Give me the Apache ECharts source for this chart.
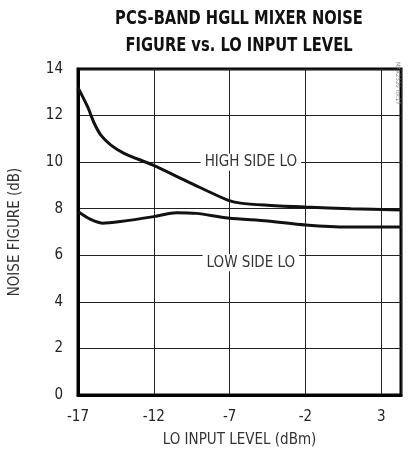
<!DOCTYPE html>
<html><head><meta charset="utf-8">
<script src="https://cdn.jsdelivr.net/npm/echarts@6/dist/echarts.min.js"></script>
<style>html,body{margin:0;padding:0;background:#fff}#c{width:409px;height:457px}</style>
</head><body><div id="c"></div>
<script>
var FONT = '"Liberation Sans Narrow","DejaVu Sans Condensed","Liberation Sans",sans-serif';
var titleLines = ['PCS-BAND HGLL MIXER NOISE', 'FIGURE vs. LO INPUT LEVEL'];
var xAxisName = 'LO INPUT LEVEL (dBm)';
var yAxisName = 'NOISE FIGURE (dB)';
var seriesNames = ['HIGH SIDE LO', 'LOW SIDE LO'];
var highX = [-17, -16.37, -15.93, -15.49, -14.83, -13.96, -12.09, -9.57, -7.13, -6.28, -4.5, -2, 1, 4.3];
var highY = [13.2, 12.38, 11.67, 11.16, 10.73, 10.38, 9.88, 9.1, 8.37, 8.24, 8.15, 8.07, 8.0, 7.94];
var lowX = [-17, -16.2, -15.4, -14.2, -12, -10.5, -9.2, -7.1, -4.5, -2, 0.8, 4.3];
var lowY = [7.88, 7.55, 7.38, 7.45, 7.66, 7.83, 7.8, 7.6, 7.47, 7.3, 7.21, 7.21];
var labelPos = [[-5.6, 10], [-5.6, 5.68]];
var sideNote = 'MAX2320 toc17';

function pairs(xs, ys){ return xs.map(function(x,i){ return [x, ys[i]]; }); }

var chart = echarts.init(document.getElementById('c'));
var lbl = function(name, coord){
  return { symbol:'rect', symbolSize:[1,1], silent:true, itemStyle:{ color:'rgba(0,0,0,0)' },
    data:[{ coord: coord,
    label:{ show:true, position:'inside', formatter:name, color:'#333', fontFamily:FONT, fontSize:15,
      backgroundColor:'#fff', padding:[1,4,1,4] } }] };
};
chart.setOption({
  animation:false,
  grid:{ left:77, right:8, top:69, bottom:62, show:true, borderColor:'#000', borderWidth:3 },
  xAxis:{ type:'value', min:-17, max:4.3, interval:5,
    name:xAxisName, nameLocation:'middle', nameGap:38,
    nameTextStyle:{ fontFamily:FONT, fontSize:15, color:'#333' },
    axisLine:{ show:true, onZero:false, lineStyle:{ color:'#000', width:3 } }, axisTick:{ show:false },
    axisLabel:{ fontFamily:FONT, fontSize:15, color:'#222', margin:15, showMaxLabel:false,
      formatter:function(v){ return (Math.abs((v+17)%5) < 1e-6) ? String(v) : ''; } },
    splitLine:{ show:true, lineStyle:{ color:'#222', width:1 } } },
  yAxis:{ type:'value', min:0, max:14, interval:2,
    name:yAxisName, nameLocation:'middle', nameGap:55,
    nameTextStyle:{ fontFamily:FONT, fontSize:15, color:'#333' },
    axisLine:{ show:true, onZero:false, lineStyle:{ color:'#000', width:3 } }, axisTick:{ show:false },
    axisLabel:{ fontFamily:FONT, fontSize:15, color:'#222', margin:15 },
    splitLine:{ show:true, lineStyle:{ color:'#222', width:1 } } },
  graphic:[
    { type:'text', x:239, y:6, scaleX:0.86, scaleY:1.05,
      style:{ text:titleLines.join('\n'), textAlign:'center', font:'bold 19px ' + FONT, fill:'#111', lineHeight:25 } },
    { type:'text', x:401, y:62, rotation:-Math.PI/2,
      style:{ text:sideNote, font:'6px ' + FONT, fill:'#888' } }
  ],
  series:[
    { name:seriesNames[0], type:'line', smooth:0.3, showSymbol:false, data:pairs(highX, highY),
      lineStyle:{ color:'#111', width:3 }, z:3, markPoint: lbl(seriesNames[0], labelPos[0]) },
    { name:seriesNames[1], type:'line', smooth:0.3, showSymbol:false, data:pairs(lowX, lowY),
      lineStyle:{ color:'#111', width:3 }, z:3, markPoint: lbl(seriesNames[1], labelPos[1]) }
  ]
});
</script></body></html>
